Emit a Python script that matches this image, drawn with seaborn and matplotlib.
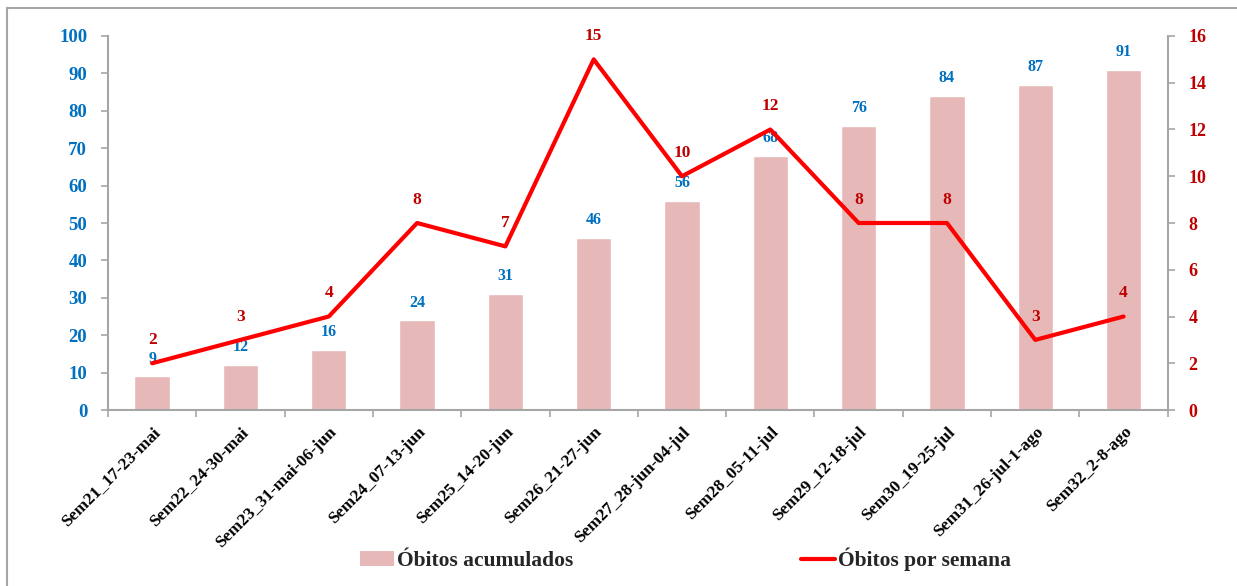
import numpy as np
import pandas as pd
import matplotlib
matplotlib.use("Agg")
import matplotlib.pyplot as plt
import seaborn as sns
from matplotlib.lines import Line2D
from matplotlib.patches import Patch

# data
semanas = ["Sem21_17-23-mai", "Sem22_24-30-mai", "Sem23_31-mai-06-jun",
           "Sem24_07-13-jun", "Sem25_14-20-jun", "Sem26_21-27-jun",
           "Sem27_28-jun-04-jul", "Sem28_05-11-jul", "Sem29_12-18-jul",
           "Sem30_19-25-jul", "Sem31_26-jul-1-ago", "Sem32_2-8-ago"]
obitos_acumulados = [9, 12, 16, 24, 31, 46, 56, 68, 76, 84, 87, 91]
obitos_semana = [2, 3, 4, 8, 7, 15, 10, 12, 8, 8, 3, 4]

left_ticks = list(range(0, 101, 10))
right_ticks = list(range(0, 17, 2))

BAR_COLOR = "#E6B9B8"
LINE_COLOR = "#FF0000"
BLUE = "#0070C0"
DARK_RED = "#C00000"
SPINE = "#A6A6A6"
SERIF = "Liberation Serif"

df = pd.DataFrame({"semana": semanas,
                   "acumulados": obitos_acumulados,
                   "por_semana": obitos_semana,
                   "pos": np.arange(len(semanas))})

sns.set_theme(style="white")
plt.rcParams["font.family"] = [SERIF, "DejaVu Serif"]

fig = plt.figure(figsize=(12.37, 5.86), dpi=100)
ax = fig.add_axes([0.0873, 0.3003, 0.8567, 0.6383])

# bars: cumulative deaths
sns.barplot(data=df, x="semana", y="acumulados", color=BAR_COLOR,
            width=0.4, saturation=1, ax=ax)
ax.set_xlim(-0.5, len(semanas) - 0.5)
ax.set_ylim(0, 100)
ax.set_yticks(left_ticks)
ax.set_xlabel("")
ax.set_ylabel("")

for i, v in enumerate(obitos_acumulados):
    ax.annotate(str(v), (i, v), xytext=(0, 7), textcoords="offset points",
                ha="center", va="bottom", fontsize=11.5, fontweight="bold",
                color=BLUE, family=SERIF)

# line: weekly deaths on secondary axis
ax2 = ax.twinx()
sns.lineplot(data=df, x="pos", y="por_semana", color=LINE_COLOR,
             linewidth=3, ax=ax2)
ax2.set_ylim(0, 16)
ax2.set_yticks(right_ticks)
ax2.set_xlim(-0.5, len(semanas) - 0.5)
ax2.set_ylabel("")
ax2.set_xlabel("")

for i, v in enumerate(obitos_semana):
    ax2.annotate(str(v), (i, v), xytext=(0, 11), textcoords="offset points",
                 ha="center", va="bottom", fontsize=12.5, fontweight="bold",
                 color=DARK_RED, family=SERIF)

# x ticks at category boundaries, labels at centers
ax.set_xticks(np.arange(len(semanas)))
ax.set_xticklabels(semanas, rotation=45, ha="right", rotation_mode="anchor",
                   fontsize=12.5, fontweight="bold", color="black")
ax.set_xticks(np.arange(-0.5, len(semanas)), minor=True)
ax.tick_params(axis="x", which="major", length=0, pad=10)
ax.tick_params(axis="x", which="minor", length=5, width=1.2, color=SPINE,
               direction="out", bottom=True)
ax.tick_params(axis="y", length=5, width=1.2, color=SPINE, direction="out",
               left=True, labelsize=13.5, labelcolor=BLUE, pad=10)
for lab in ax.get_yticklabels():
    lab.set_fontweight("bold")

ax2.tick_params(axis="y", length=5, width=1.2, color=SPINE, direction="out",
                right=True, labelsize=13, labelcolor=DARK_RED, pad=10)
for lab in ax2.get_yticklabels():
    lab.set_fontweight("bold")
ax2.tick_params(axis="x", bottom=False, labelbottom=False)

for a in (ax, ax2):
    a.spines["top"].set_visible(False)
    for s in ("left", "right", "bottom"):
        a.spines[s].set_color(SPINE)
        a.spines[s].set_linewidth(1.5)
ax.spines["right"].set_visible(False)
ax2.spines["left"].set_visible(False)
ax2.spines["bottom"].set_visible(False)

# legend below the chart
handles = [Patch(facecolor=BAR_COLOR, edgecolor="none"),
           Line2D([0], [0], color=LINE_COLOR, linewidth=3)]
fig.legend(handles, ["Óbitos acumulados", "Óbitos por semana"],
           loc="center", bbox_to_anchor=(0.554, 0.045), ncol=2,
           frameon=False, prop={"family": SERIF, "weight": "bold", "size": 15.5},
           handlelength=1.6, handleheight=0.7, handletextpad=0.1,
           columnspacing=10.6)

# outer chart frame (partly cut in the original)
fig.add_artist(Line2D([7 / 1237, 7 / 1237], [0, 1 - 8 / 586],
                      transform=fig.transFigure, color=SPINE, linewidth=1.5))
fig.add_artist(Line2D([7 / 1237, 1], [1 - 8 / 586, 1 - 8 / 586],
                      transform=fig.transFigure, color=SPINE, linewidth=1.5))

fig.savefig("out.png", dpi=100)
